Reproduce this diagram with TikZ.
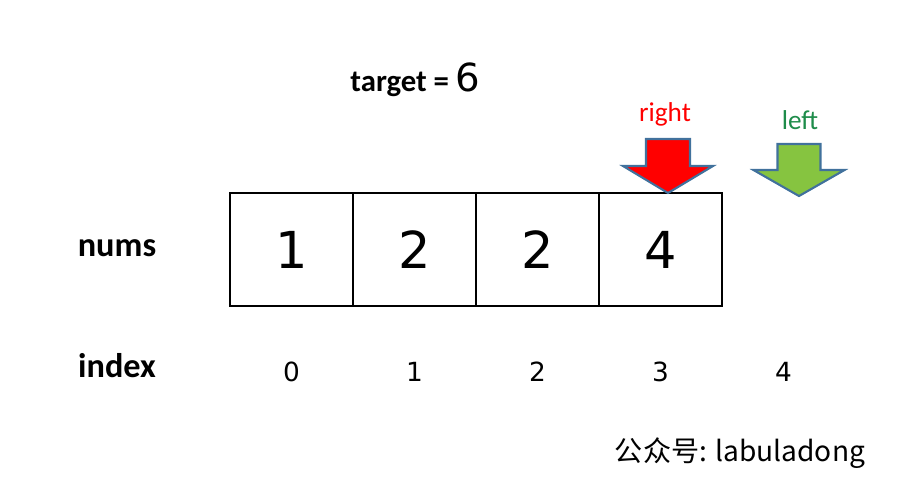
\documentclass[tikz,border=0pt]{standalone}
\usepackage{fontspec}
\setmainfont{Carlito}
\newfontfamily\digitfont{DejaVu Sans}
\newfontfamily\cjk{Noto Sans CJK SC}
\usepackage{tikz}
\usetikzlibrary{positioning}
\definecolor{outlineblue}{HTML}{41719C}
\definecolor{rightred}{HTML}{FF0000}
\definecolor{leftgreen}{HTML}{86C440}
\definecolor{labelgreen}{HTML}{1E8C4A}

\begin{document}
\begin{tikzpicture}[
    cell/.style={draw, line width=1.6pt, minimum width=2.46cm, minimum height=2.26cm,
                 inner sep=0pt, outer sep=0pt, font=\digitfont\fontsize{29}{30}\selectfont},
    idx/.style={font=\digitfont\fontsize{15}{16}\selectfont},
    rowlabel/.style={font=\bfseries\fontsize{19.5}{20}\selectfont},
    pointer/.style={draw=outlineblue, line width=1.2pt, line join=miter},
    ptrlabel/.style={font=\fontsize{15.5}{16}\selectfont}
]
\useasboundingbox (0,0) rectangle (18.3,-9.86);

% Title
\node (target) at (8.31,-1.6) {{\bfseries\fontsize{17.5}{18}\selectfont target =}\,
    {\digitfont\mdseries\fontsize{22}{22}\selectfont 6}};

% Array cells
\foreach \v [count=\i from 0] in {1,2,2,4} {
    \node[cell] (c\i) at ({5.83+2.46*\i},-4.99) {\raisebox{-0.09cm}{\v}};
}

% Indices
\foreach \i in {0,...,4} {
    \node[idx] (i\i) at ({5.83+2.46*\i},-7.44) {\i};
}

% Row labels
\node[rowlabel] (nums) at (2.34,-4.96) {nums};
\node[rowlabel] (index) at (2.34,-7.32) {index};

% Pointers
\coordinate (rtip) at (13.36,-3.86);
\coordinate (ltip) at (15.98,-3.92);
\draw[pointer, fill=rightred] (rtip) -- ++(-0.9,0.54) -- ++(0.46,0) -- ++(0,0.54)
    -- ++(0.88,0) -- ++(0,-0.54) -- ++(0.46,0) -- cycle;
\draw[pointer, fill=leftgreen] (ltip) -- ++(-0.91,0.52) -- ++(0.48,0) -- ++(0,0.52)
    -- ++(0.86,0) -- ++(0,-0.52) -- ++(0.48,0) -- cycle;
\node[ptrlabel, text=rightred] (right) at (13.3,-2.28) {right};
\node[ptrlabel, text=labelgreen] (left) at (16.0,-2.4) {left};

% Footer
\node (footer) at (14.8,-9.06) {\cjk\fontsize{16}{17}\selectfont 公众号: labuladong};

\end{tikzpicture}
\end{document}
